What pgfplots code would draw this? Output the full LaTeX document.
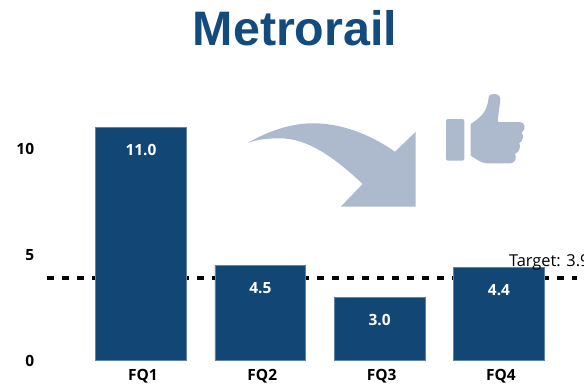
\documentclass[border=0pt]{standalone}
\usepackage{pgfplots}
\pgfplotsset{compat=1.18}
\usepackage{fontspec}
\setmainfont{Open Sans}
\newfontfamily\titlefont{Liberation Sans}
\definecolor{barblue}{HTML}{114675}
\definecolor{baredge}{HTML}{5F83A6}
\definecolor{iconblue}{HTML}{ADB9CC}
\definecolor{titleblue}{HTML}{134B7C}
\begin{document}
\begin{tikzpicture}
% page frame, 584 by 389 units at 0.75pt, origin top left
\path[use as bounding box,clip] (0pt,0pt) rectangle (438pt,-291.75pt);

\begin{axis}[
  at={(35.6pt,-270.5pt)}, anchor=south west,
  scale only axis, width=402.75pt, height=210pt,
  xmin=-0.7835, xmax=3.7166, ymin=0, ymax=13.2,
  clip=false,
  axis line style={draw=none},
  major tick length=0pt,
  xtick={0,1,2,3},
  xticklabels={FQ1,FQ2,FQ3,FQ4},
  ytick={0,5,10},
  /pgf/number format/assume math mode=true,
  tick label style={font=\bfseries\fontsize{11.6}{14}\selectfont, text=black},
  xticklabel style={yshift=-3pt, xshift=1.5pt},
  yticklabel style={xshift=-6.5pt, yshift=-0.5pt},
]
% target line, behind the bars
\addplot[black, line width=3pt, dash pattern=on 5.25pt off 6pt, forget plot]
  coordinates {(-0.7835,3.9) (3.658,3.9)};
% quarterly values
\addplot[
  ybar, bar width=68.2pt, fill=barblue, draw=baredge, line width=0.4pt,
  point meta=y,
  nodes near coords={\pgfmathprintnumber[fixed,fixed zerofill,precision=1,assume math mode=true]{\pgfplotspointmeta}},
  every node near coord/.append style={anchor=center, yshift=-17.2pt, text=white, font=\bfseries\fontsize{11.6}{14}\selectfont},
] coordinates {(0,11.0) (1,4.5) (2,3.0) (3,4.4)};
\node[anchor=base west, inner sep=0pt, font=\fontsize{12.3}{14}\selectfont, text=black]
  at (axis cs:3.082,3.9) [yshift=8.5pt] {Target: 3.9};
\end{axis}

\begin{scope}[x=0.75pt,y=-0.75pt]
% heading
\node[anchor=base, inner sep=0pt, text=titleblue, font=\titlefont\bfseries\fontsize{36.3}{40}\selectfont]
  at (295,45) {Metrorail};

% curved arrow
\fill[iconblue] (247.3,143.3)
  .. controls (268,131) and (291,123.3) .. (313,123.3)
  .. controls (340,123.3) and (368,133) .. (395,151.7)
  -- (415.7,131.7) -- (415.7,206.7) -- (340.7,206.7) -- (362.7,184)
  .. controls (335,158) and (308,138.3) .. (280,138.3)
  .. controls (268,138.3) and (256,139.5) .. (247.3,143.3) -- cycle;

% thumbs-up icon
\fill[iconblue, rounded corners=1.5] (446,119) -- (464.3,119) -- (464.3,160.7) -- (446,160.7) -- cycle;
\fill[iconblue] (470.7,124)
  .. controls (480,118) and (487,112) .. (488.3,100)
  .. controls (488.5,94) and (491,94) .. (494,94)
  .. controls (498,94) and (500.5,96) .. (500.3,100)
  -- (497.7,120)
  .. controls (497.5,121.5) and (498,122) .. (499,122)
  -- (520,122)
  .. controls (525,122.5) and (526.5,129) .. (521.7,132.7)
  .. controls (524,135) and (523,141) .. (519.3,143.3)
  .. controls (521,146) and (519.5,152) .. (515,154)
  .. controls (517,157) and (515.5,163) .. (510.7,163.3)
  -- (486.7,163.3)
  .. controls (481,163) and (478,160) .. (470.7,155.7)
  -- cycle;
\end{scope}
\end{tikzpicture}
\end{document}
